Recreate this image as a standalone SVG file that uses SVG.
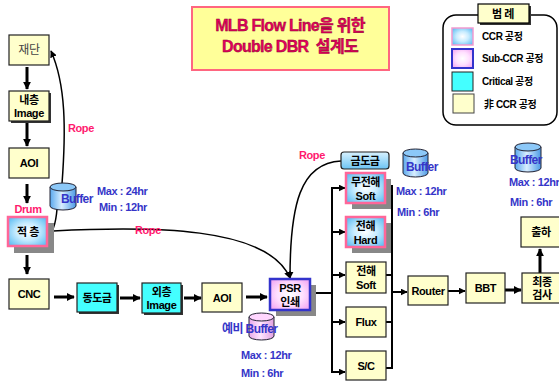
<svg xmlns="http://www.w3.org/2000/svg" width="559" height="382" viewBox="0 0 559 382">
<defs>
<radialGradient id="ccr" cx="50%" cy="50%" r="65%"><stop offset="0" stop-color="#ffffff"/><stop offset="0.45" stop-color="#c8ecff"/><stop offset="1" stop-color="#5bbcf2"/></radialGradient>
<radialGradient id="sub" cx="50%" cy="50%" r="65%"><stop offset="0" stop-color="#ffffff"/><stop offset="0.5" stop-color="#ffe0ff"/><stop offset="1" stop-color="#f2a6f2"/></radialGradient>
<linearGradient id="cylb" x1="0" y1="0" x2="1" y2="0"><stop offset="0" stop-color="#5aa8ee"/><stop offset="0.45" stop-color="#d8eeff"/><stop offset="1" stop-color="#4c9ae6"/></linearGradient>
<linearGradient id="cylp" x1="0" y1="0" x2="1" y2="0"><stop offset="0" stop-color="#e8a8e8"/><stop offset="0.45" stop-color="#ffe6ff"/><stop offset="1" stop-color="#e0a0e0"/></linearGradient>
<linearGradient id="gold" x1="0" y1="0" x2="0" y2="1"><stop offset="0" stop-color="#d8f2ff"/><stop offset="1" stop-color="#6cc4f4"/></linearGradient>
<marker id="ah" viewBox="0 0 10 10" refX="9" refY="5" markerWidth="8" markerHeight="8" markerUnits="userSpaceOnUse" orient="auto"><path d="M0,0 L10,5 L0,10 Z" fill="#000"/></marker>
<marker id="ahs" viewBox="0 0 10 10" refX="9" refY="5" markerWidth="7" markerHeight="7" markerUnits="userSpaceOnUse" orient="auto"><path d="M0,0 L10,5 L0,10 Z" fill="#000"/></marker>
</defs>
<style>
text{font-family:"Liberation Sans","Noto Sans CJK KR",sans-serif;font-weight:bold;font-size:11px;letter-spacing:-0.4px}
.c{text-anchor:middle}
.box{stroke:#222;stroke-width:1.2}
.y{fill:#ffffcc}
.cy{fill:#44ffff}
.sh{fill:#333}
.gs{fill:#888}
.ccr{fill:url(#ccr);stroke:#ff6699;stroke-width:2.5}
.sub{fill:url(#sub);stroke:#3333cc;stroke-width:2.5}
.blue{fill:#3535c8}
.bf{font-size:12px;letter-spacing:-0.6px}
.pink{fill:#ff1a6e}
.ln{stroke:#000;stroke-width:2;fill:none}
.th{stroke:#000;stroke-width:3;fill:none}
.rope{stroke:#000;stroke-width:1.5;fill:none}
.cyl{stroke:#223;stroke-width:1}
</style>

<g id="title">
<rect x="192" y="7" width="197" height="63" fill="#ffff99" stroke="#ff6680" stroke-width="2"/>
<text x="290" y="31" class="c" style="font-size:16px;letter-spacing:-0.7px;fill:#e8005c;stroke:#800030;stroke-width:0.4">MLB Flow Line을 위한</text>
<text x="290" y="52" class="c" style="font-size:16px;letter-spacing:-0.7px;fill:#e8005c;stroke:#800030;stroke-width:0.4" xml:space="preserve">Double DBR  설계도</text>
</g>

<g id="legend">
<rect x="443" y="15" width="114" height="110" rx="13" fill="#fff" stroke="#000" stroke-width="1.5"/>
<rect x="480" y="6" width="51" height="19" class="sh"/>
<rect x="478" y="4" width="51" height="19" fill="#ffffcc" stroke="#000" stroke-width="1.2"/>
<text x="503" y="18" class="c">범 례</text>
<rect x="452" y="28" width="21" height="17" fill="url(#ccr)" stroke="#f29ad0" stroke-width="1.5"/>
<text x="482" y="40" style="font-size:10px">CCR 공정</text>
<rect x="452" y="49" width="21" height="19" fill="url(#sub)" stroke="#3333cc" stroke-width="2"/>
<text x="482" y="62" style="font-size:10px">Sub-CCR 공정</text>
<rect x="452" y="72" width="21" height="19" class="cy" stroke="#222" stroke-width="1"/>
<text x="482" y="85" style="font-size:10px">Critical 공정</text>
<rect x="453" y="94" width="21" height="19" class="y" stroke="#444" stroke-width="1"/>
<text x="484" y="108" style="font-size:10px">非 CCR 공정</text>
</g>

<g id="connectors">
<line x1="27" y1="67" x2="27" y2="89" class="th" marker-end="url(#ah)"/>
<line x1="27" y1="123" x2="27" y2="146" class="th" marker-end="url(#ah)"/>
<line x1="27" y1="184" x2="27" y2="203" class="th" marker-end="url(#ah)"/>
<line x1="27" y1="255" x2="27" y2="274" class="th" marker-end="url(#ah)"/>
<line x1="54" y1="297" x2="74" y2="297" class="th" marker-end="url(#ah)"/>
<line x1="120" y1="298" x2="140" y2="298" class="th" marker-end="url(#ah)"/>
<line x1="184" y1="298" x2="201" y2="298" class="th" marker-end="url(#ah)"/>
<line x1="246" y1="297" x2="267" y2="297" class="th" marker-end="url(#ah)"/>
<line x1="310" y1="293" x2="332" y2="293" class="ln"/>
<line x1="332" y1="187" x2="332" y2="373" class="ln"/>
<line x1="332" y1="188" x2="345" y2="188" class="ln" marker-end="url(#ahs)"/>
<line x1="332" y1="232" x2="345" y2="232" class="ln" marker-end="url(#ahs)"/>
<line x1="332" y1="275" x2="345" y2="275" class="ln" marker-end="url(#ahs)"/>
<line x1="332" y1="322" x2="345" y2="322" class="ln" marker-end="url(#ahs)"/>
<line x1="332" y1="372" x2="345" y2="372" class="ln" marker-end="url(#ahs)"/>
<line x1="385" y1="186" x2="392" y2="186" class="ln"/>
<line x1="385" y1="232" x2="392" y2="232" class="ln"/>
<line x1="386" y1="275" x2="392" y2="275" class="ln"/>
<line x1="386" y1="322" x2="392" y2="322" class="ln"/>
<line x1="386" y1="368" x2="392" y2="368" class="ln"/>
<line x1="392" y1="185" x2="392" y2="369" class="ln"/>
<line x1="392" y1="292" x2="407" y2="292" class="ln" marker-end="url(#ahs)"/>
<line x1="448" y1="291" x2="465" y2="291" class="ln" marker-end="url(#ahs)"/>
<line x1="505" y1="290" x2="521" y2="290" class="th" marker-end="url(#ah)"/>
<line x1="540" y1="273" x2="540" y2="249" class="th" marker-end="url(#ah)"/>
<path d="M62 184 C66 130 66 85 51 51" class="rope" marker-end="url(#ahs)"/>
<path d="M47 237 C53 233 56 222 57 209" class="rope"/>
<path d="M53 231 C150 226 268 226 290 278" class="rope" marker-end="url(#ahs)"/>
<path d="M341 161 C300 163 290 205 290 278" class="rope" marker-end="url(#ahs)"/>
<text x="68" y="132" class="pink">Rope</text>
<text x="135" y="234" class="pink">Rope</text>
<text x="299" y="159" class="pink">Rope</text>
</g>

<g id="n-jaedan"><rect x="9" y="35" width="40" height="30" class="box y"/><text x="29" y="54" class="c" style="font-weight:normal;fill:#444;font-size:12px">재단</text></g>
<g id="n-naecheung"><rect x="11" y="93" width="40" height="30" class="sh"/><rect x="9" y="91" width="40" height="30" class="box y"/><text x="29" y="104" class="c">내층</text><text x="29" y="117" class="c">Image</text></g>
<g id="n-aoi1"><rect x="9" y="148" width="40" height="30" class="box y"/><text x="29" y="167" class="c">AOI</text></g>
<g id="n-jeokcheung"><text x="28" y="213" class="c pink" style="font-size:11px">Drum</text><rect x="14" y="223" width="40" height="30" class="gs"/><rect x="8" y="217" width="39" height="29" class="ccr"/><text x="28" y="236" class="c">적 층</text></g>
<g id="n-buffer1"><path d="M50 187 V206 A13 4 0 0 0 76 206 V187 Z" fill="url(#cylb)" class="cyl"/><ellipse cx="63" cy="187" rx="13" ry="4" fill="#8cc8f8" class="cyl"/><text x="61" y="203" class="blue bf">Buffer</text><text x="97" y="195" class="blue">Max : 24hr</text><text x="99" y="211" class="blue">Min : 12hr</text></g>
<g id="n-cnc"><rect x="9" y="279" width="40" height="30" class="box y"/><text x="29" y="298" class="c">CNC</text></g>
<g id="n-dongdogeum"><rect x="79" y="285" width="40" height="29" class="sh"/><rect x="77" y="283" width="40" height="29" class="box cy"/><text x="97" y="302" class="c">동도금</text></g>
<g id="n-oecheung"><rect x="144" y="285" width="39" height="30" class="sh"/><rect x="142" y="283" width="39" height="30" class="box cy"/><text x="161.5" y="296" class="c">외층</text><text x="161.5" y="309" class="c">Image</text></g>
<g id="n-aoi2"><rect x="202" y="283" width="40" height="29" class="box y"/><text x="222" y="302" class="c">AOI</text></g>
<g id="n-psr"><rect x="276" y="285" width="40" height="31" class="gs"/><rect x="270" y="279" width="40" height="31" class="sub"/><text x="290" y="292" class="c">PSR</text><text x="290" y="306" class="c">인쇄</text></g>
<g id="n-buffer-pre"><path d="M249 317 V336 A12.5 4 0 0 0 274 336 V317 Z" fill="url(#cylp)" class="cyl"/><ellipse cx="261.5" cy="317" rx="12.5" ry="4" fill="#ffd6ff" class="cyl"/><text x="222" y="333" class="blue bf">예비 Buffer</text><text x="241" y="359" class="blue">Max : 12hr</text><text x="241" y="377" class="blue">Min : 6hr</text></g>
<g id="n-geumdogeum"><rect x="341" y="152" width="48" height="17" rx="3" fill="url(#gold)" stroke="#222" stroke-width="1.2"/><text x="365" y="165" class="c">금도금</text></g>
<g id="n-buffer2"><path d="M403 153 V173 A12.5 4 0 0 0 428 173 V153 Z" fill="url(#cylb)" class="cyl"/><ellipse cx="415.5" cy="153" rx="12.5" ry="4" fill="#8cc8f8" class="cyl"/><text x="406" y="171" class="blue bf">Buffer</text><text x="396" y="195" class="blue">Max : 12hr</text><text x="397" y="216" class="blue">Min : 6hr</text></g>
<g id="n-mujeonhae"><rect x="352" y="179" width="39" height="30" class="gs"/><rect x="346" y="173" width="39" height="30" class="ccr"/><text x="365.5" y="186" class="c">무전해</text><text x="365.5" y="200" class="c">Soft</text></g>
<g id="n-hard"><rect x="352" y="223" width="39" height="30" class="gs"/><rect x="346" y="217" width="39" height="30" class="ccr"/><text x="365.5" y="230" class="c">전해</text><text x="365.5" y="244" class="c">Hard</text></g>
<g id="n-soft"><rect x="346" y="262" width="40" height="31" class="box y"/><text x="366" y="275" class="c">전해</text><text x="366" y="289" class="c">Soft</text></g>
<g id="n-flux"><rect x="346" y="307" width="40" height="30" class="box y"/><text x="366" y="326" class="c">Flux</text></g>
<g id="n-sc"><rect x="346" y="351" width="40" height="29" class="box y"/><text x="366" y="370" class="c">S/C</text></g>
<g id="n-router"><rect x="408" y="276" width="40" height="29" class="box y"/><text x="428" y="295" class="c">Router</text></g>
<g id="n-bbt"><rect x="466" y="273" width="39" height="30" class="box y"/><text x="485.5" y="292" class="c">BBT</text></g>
<g id="n-final"><rect x="522" y="273" width="40" height="30" class="box y"/><text x="542" y="286" class="c">최종</text><text x="542" y="299" class="c">검사</text></g>
<g id="n-ship"><rect x="521" y="217" width="40" height="30" class="box y"/><text x="541" y="236" class="c">출하</text></g>
<g id="n-buffer3"><path d="M515 147 V168 A13 4 0 0 0 541 168 V147 Z" fill="url(#cylb)" class="cyl"/><ellipse cx="528" cy="147" rx="13" ry="4" fill="#8cc8f8" class="cyl"/><text x="510" y="164" class="blue bf">Buffer</text><text x="509" y="186" class="blue">Max : 12hr</text><text x="510" y="206" class="blue">Min : 6hr</text></g>
</svg>
